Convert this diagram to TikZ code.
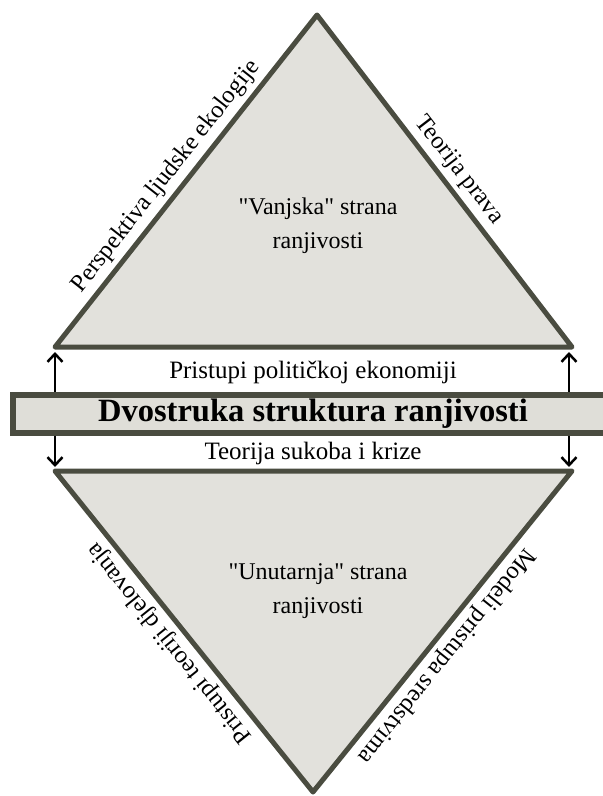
\documentclass[tikz,border=0pt]{standalone}
\usepackage{fontspec}
\setmainfont{Liberation Serif}
\newfontfamily\rawserif{Liberation Serif}
\usetikzlibrary{arrows.meta}
\definecolor{edge}{HTML}{4A4C40}
\definecolor{fillg}{HTML}{E2E1DC}
\definecolor{bandg}{HTML}{DFDED8}
\newcommand{\dq}{{\rawserif"}}
\tikzset{
  tri/.style={draw=edge, fill=fillg, line width=5pt, line join=round},
  sidelabel/.style={sloped, anchor=south, inner xsep=1pt, inner ysep=7pt, font=\fontsize{24.5}{28}\selectfont},
  midlabel/.style={inner sep=0pt, font=\fontsize{25}{28}\selectfont},
  innerlabel/.style={align=center, inner sep=0pt, font=\fontsize{24}{34}\selectfont},
  bandbox/.style={draw=edge, fill=bandg, line width=6pt, minimum width=600pt, minimum height=38pt, inner sep=0pt, font=\bfseries\fontsize{32.5}{36}\selectfont},
  arr/.style={-{Straight Barb[length=8pt,width=15pt,line width=2.5pt]}, line width=2.6pt, black}
}
\begin{document}
\begin{tikzpicture}[x=1pt,y=-1pt]
\useasboundingbox (0,0) rectangle (603,796);
\clip (0,0) rectangle (603,796);
% corners
\coordinate (tA) at (317,15);
\coordinate (tL) at (55,347);
\coordinate (tR) at (572,347);
\coordinate (bA) at (313,792);
\coordinate (bL) at (55,471);
\coordinate (bR) at (572,471);
% triangles
\draw[tri] (tL) -- (tA) -- (tR) -- cycle;
\draw[tri] (bL) -- (bR) -- (bA) -- cycle;
% side labels
\path (tL) -- (tA) node[sidelabel, pos=0.48] (lTL) {Perspektiva ljudske ekologije};
\path (tA) -- (tR) node[sidelabel, pos=0.5] (lTR) {Teorija prava};
\path (bA) -- (bL) node[sidelabel, allow upside down, pos=0.5] (lBL) {Pristupi teoriji djelovanja};
\path (bR) -- (bA) node[sidelabel, allow upside down, pos=0.54] (lBR) {Modeli pristupa sredstvima};
% inner labels
\node[innerlabel] (outer) at (318,226) {\dq Vanjska\dq{} strana\\ranjivosti};
\node[innerlabel] (inner) at (318,591) {\dq Unutarnja\dq{} strana\\ranjivosti};
% band
\node[bandbox] (band) at (313,413.5) {Dvostruka struktura ranjivosti};
\node[midlabel] (pe) at (313,372) {Pristupi političkoj ekonomiji};
\node[midlabel] (sk) at (313,453) {Teorija sukoba i krize};
% arrows
\coordinate (aLu) at (55,352);
\coordinate (aRu) at (569,352);
\coordinate (aLd) at (55,467);
\coordinate (aRd) at (569,467);
\draw[arr] (band.north -| aLu) -- (aLu);
\draw[arr] (band.north -| aRu) -- (aRu);
\draw[arr] (band.south -| aLd) -- (aLd);
\draw[arr] (band.south -| aRd) -- (aRd);
\end{tikzpicture}
\end{document}
